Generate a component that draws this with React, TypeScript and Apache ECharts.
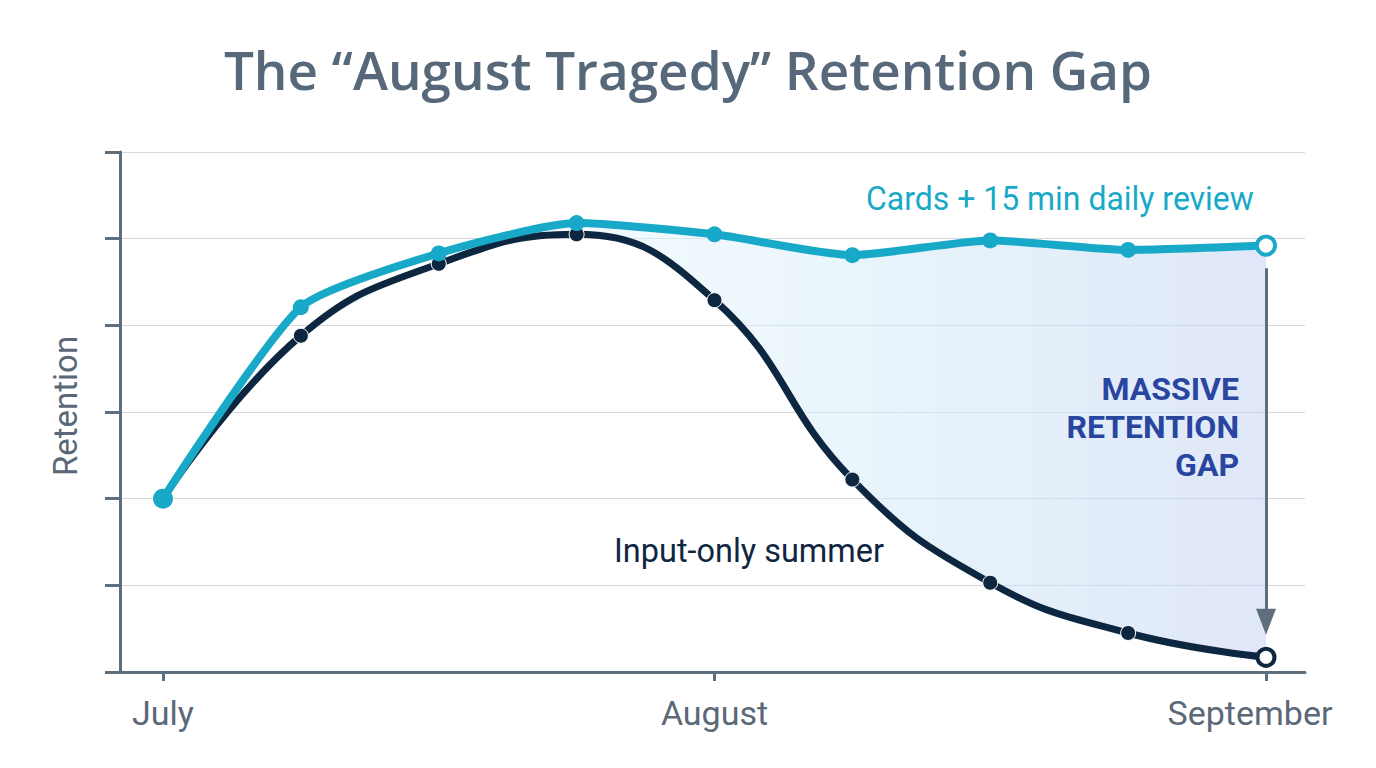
import React, { useEffect, useRef } from "react";
import * as echarts from "echarts";

// Weekly checkpoints from July to September
const weeks = ["July", "Jul W2", "Jul W3", "Jul W4", "August", "Aug W2", "Aug W3", "Aug W4", "September"];
// Retention score (0-6 scale) for each group
const reviewRetention = [2.0, 4.21, 4.83, 5.18, 5.05, 4.81, 4.98, 4.87, 4.92];
const inputOnlyRetention = [2.0, 3.88, 4.71, 5.05, 4.29, 2.22, 1.03, 0.45, 0.17];
// The gap is shaded from the peak week onward
const gapStartIndex = 3;

const yTicks = [0, 1, 2, 3, 4, 5, 6];

const AXIS = "#5f6e7d";
const LABEL = "#5a6878";
const CYAN = "#19a9c8";
const NAVY = "#0e2741";

export default function App() {
  const ref = useRef<HTMLDivElement>(null);

  useEffect(() => {
    document.body.style.margin = "0";
    const chart = echarts.init(ref.current!, null, { renderer: "svg" });
    const last = weeks.length - 1;

    // Shaded band: base follows the input-only curve, the stacked part adds the gap
    // (zero before the peak so both curves share the same smoothing).
    const fillBase = inputOnlyRetention.slice();
    const fillGap = reviewRetention.map((v, i) =>
      i >= gapStartIndex ? +(v - inputOnlyRetention[i]).toFixed(3) : 0
    );

    const cyanData = reviewRetention.map((v, i) => {
      if (i === 0) return { value: v, symbolSize: 20 };
      if (i === last)
        return {
          value: v,
          symbolSize: 18,
          itemStyle: { color: "#ffffff", borderColor: CYAN, borderWidth: 4 },
        };
      return v;
    });
    const navyData = inputOnlyRetention.map((v, i) => {
      if (i === last)
        return {
          value: v,
          symbolSize: 17,
          itemStyle: { color: "#ffffff", borderColor: NAVY, borderWidth: 4 },
        };
      return v;
    });

    chart.setOption({
      animation: false,
      backgroundColor: "#ffffff",
      title: {
        text: "The \u201CAugust Tragedy\u201D Retention Gap",
        left: "center",
        top: 38,
        textStyle: {
          fontFamily: "Open Sans",
          fontSize: 53,
          fontWeight: 600,
          color: "#56687a",
        },
      },
      grid: [
        // plot area: first and last weeks sit inside the frame
        { left: 163, right: 110, top: 152, bottom: 96 },
        // frame: axis lines, ticks and gridlines
        { left: 120, right: 71, top: 152, bottom: 96 },
      ],
      xAxis: [
        {
          type: "category",
          gridIndex: 0,
          data: weeks,
          boundaryGap: false,
          axisLine: { show: false },
          axisTick: {
            show: true,
            interval: 3,
            length: 9,
            lineStyle: { color: AXIS, width: 3 },
          },
          axisLabel: {
            interval: 3,
            margin: 24,
            fontFamily: "Roboto",
            fontSize: 34,
            color: LABEL,
            formatter: (v: string) => (v === "September" ? "{s|September}" : v),
            rich: {
              s: {
                fontFamily: "Roboto",
                fontSize: 34,
                color: LABEL,
                padding: [0, 32, 0, 0],
              },
            },
          },
          splitLine: { show: false },
        },
        {
          type: "value",
          gridIndex: 1,
          min: 0,
          max: 1,
          axisLine: { show: true, onZero: false, lineStyle: { color: AXIS, width: 3 } },
          axisTick: { show: false },
          axisLabel: { show: false },
          splitLine: { show: false },
        },
      ],
      yAxis: [
        {
          type: "value",
          gridIndex: 0,
          min: 0,
          max: 6,
          interval: 1,
          show: false,
        },
        {
          type: "value",
          gridIndex: 1,
          min: 0,
          max: 6,
          interval: 1,
          name: "Retention",
          nameLocation: "middle",
          nameGap: 38,
          nameTextStyle: {
            fontFamily: "Roboto",
            fontSize: 33,
            color: LABEL,
            padding: [0, 0, 0, 12],
          },
          axisLine: { show: true, lineStyle: { color: AXIS, width: 3 } },
          axisTick: { show: true, length: 15, lineStyle: { color: AXIS, width: 3 } },
          axisLabel: { show: false },
          splitLine: { show: true, lineStyle: { color: "#d5d9de", width: 1.2 } },
          data: yTicks,
        },
      ],
      series: [
        {
          name: "gap-base",
          type: "line",
          xAxisIndex: 0,
          yAxisIndex: 0,
          stack: "gap",
          smooth: 0.45,
          symbol: "none",
          silent: true,
          lineStyle: { opacity: 0 },
          data: fillBase,
        },
        {
          name: "gap",
          type: "line",
          xAxisIndex: 0,
          yAxisIndex: 0,
          stack: "gap",
          smooth: 0.2,
          symbol: "none",
          silent: true,
          lineStyle: { opacity: 0 },
          areaStyle: {
            color: new echarts.graphic.LinearGradient(0, 0, 1, 0, [
              { offset: 0, color: "rgba(226,244,251,0.7)" },
              { offset: 0.45, color: "rgba(226,244,251,0.75)" },
              { offset: 0.75, color: "rgba(208,230,246,0.8)" },
              { offset: 1, color: "rgba(200,212,243,0.8)" },
            ]),
          },
          data: fillGap,
        },
        {
          name: "Input-only summer",
          type: "line",
          xAxisIndex: 0,
          yAxisIndex: 0,
          smooth: 0.45,
          symbol: "circle",
          symbolSize: 15,
          lineStyle: { color: NAVY, width: 7 },
          itemStyle: { color: NAVY, borderColor: "#ffffff", borderWidth: 1 },
          data: navyData,
          markLine: {
            silent: true,
            symbol: ["none", "triangle"],
            symbolSize: [20, 26],
            label: { show: false },
            lineStyle: { color: AXIS, width: 3, type: "solid" },
            data: [
              [
                { coord: [last, reviewRetention[last] - 0.26] },
                { coord: [last, inputOnlyRetention[last] + 0.41] },
              ],
            ],
          },
          z: 3,
        },
        {
          name: "Cards + 15 min daily review",
          type: "line",
          xAxisIndex: 0,
          yAxisIndex: 0,
          smooth: 0.2,
          symbol: "circle",
          symbolSize: 16,
          lineStyle: { color: CYAN, width: 8 },
          itemStyle: { color: CYAN },
          data: cyanData,
          z: 4,
        },
      ],
      graphic: [
        {
          type: "text",
          x: 866,
          y: 198,
          scaleX: 0.94,
          z: 10,
          style: {
            text: "Cards + 15 min daily review",
            fill: CYAN,
            fontFamily: "Roboto",
            fontSize: 34,
            align: "left",
            verticalAlign: "middle",
            textAlign: "left",
            textVerticalAlign: "middle",
          },
        },
        {
          type: "text",
          x: 614,
          y: 550,
          scaleX: 0.955,
          z: 10,
          style: {
            text: "Input-only summer",
            fill: "#10263f",
            fontFamily: "Roboto",
            fontSize: 34,
            align: "left",
            verticalAlign: "middle",
            textAlign: "left",
            textVerticalAlign: "middle",
          },
        },
        {
          type: "text",
          x: 1239,
          y: 427,
          z: 10,
          style: {
            text: "MASSIVE\nRETENTION\nGAP",
            fill: "#2846a0",
            fontFamily: "Roboto",
            fontWeight: "bold",
            fontSize: 32,
            lineHeight: 38,
            align: "right",
            verticalAlign: "middle",
            textAlign: "right",
            textVerticalAlign: "middle",
          },
        },
      ],
    });

    return () => chart.dispose();
  }, []);

  return <div ref={ref} style={{ width: 1376, height: 768 }} />;
}
